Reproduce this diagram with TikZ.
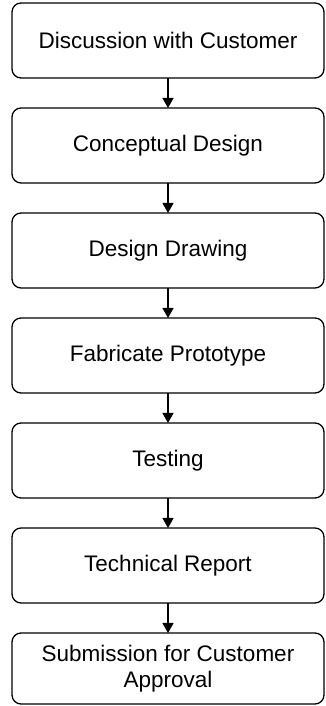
\documentclass[tikz,border=0pt]{standalone}
\usepackage{fontspec}
\setmainfont{Liberation Sans}
\usetikzlibrary{shapes, arrows.meta, positioning}

\begin{document}
\begin{tikzpicture}[x=1pt, y=1pt, >={Triangle[width=11pt,length=10pt]},
  font=\fontsize{22.5}{26}\selectfont,
  stage/.style={draw, line width=1.3pt, rounded corners=9pt, minimum width=312pt,
    minimum height=75pt, align=center, inner sep=2pt, outer sep=0pt},
  flow/.style={->, line width=1.3pt},
  node distance=30pt]
\useasboundingbox (0,0) rectangle (325,706);
%
\node[stage] (talk) at (168,665.5) {Discussion with Customer};
\node[stage, below=of talk] (concept) {Conceptual Design};
\node[stage, below=of concept] (drawing) {Design Drawing};
\node[stage, below=of drawing] (proto) {Fabricate Prototype};
\node[stage, below=of proto] (test) {Testing};
\node[stage, below=of test] (report) {Technical Report};
\node[stage, below=of report, minimum height=71pt] (submit) {Submission for Customer\\Approval};
%
\draw[flow] (talk) -- (concept);
\draw[flow] (concept) -- (drawing);
\draw[flow] (drawing) -- (proto);
\draw[flow] (proto) -- (test);
\draw[flow] (test) -- (report);
\draw[flow] (report) -- (submit);
\end{tikzpicture}
\end{document}
